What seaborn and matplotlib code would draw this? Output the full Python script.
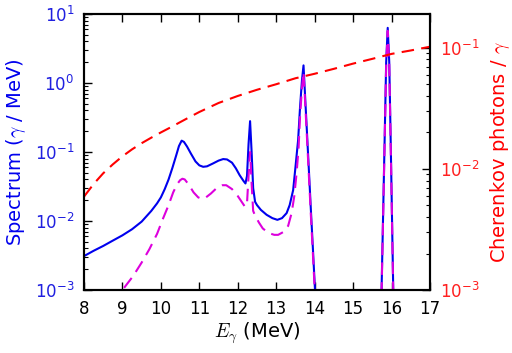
import numpy as np
import pandas as pd
import matplotlib
matplotlib.use("Agg")
import matplotlib.pyplot as plt
from matplotlib.ticker import LogLocator, NullFormatter
import seaborn as sns

# ---- data ----
E_spec = [8.0, 8.25, 8.5, 8.75, 9.0, 9.25, 9.5, 9.75, 9.9, 10.0, 10.1, 10.2, 10.3,
          10.4, 10.47, 10.54, 10.6, 10.68, 10.78, 10.9, 11.0, 11.1, 11.2, 11.35,
          11.5, 11.62, 11.72, 11.85, 11.95, 12.05, 12.15, 12.2, 12.24, 12.28, 12.32,
          12.36, 12.40, 12.45, 12.5, 12.6, 12.75, 12.9, 13.03, 13.15, 13.27, 13.35,
          13.44, 13.5, 13.57, 13.62, 13.67, 13.71, 13.75, 13.8, 13.85, 13.9, 13.95,
          14.0, 14.05, 14.1, 15.6, 15.7, 15.74, 15.78, 15.82, 15.86, 15.9, 15.94,
          15.98, 16.02, 16.06, 16.1, 16.2, 17.0]
spectrum = [3.1e-3, 3.7e-3, 4.35e-3, 5.2e-3, 6.2e-3, 7.6e-3, 9.8e-3, 1.4e-2, 1.8e-2,
            2.2e-2, 2.9e-2, 4.0e-2, 5.9e-2, 9.0e-2, 0.122, 0.146, 0.14, 0.12, 0.095,
            0.073, 0.064, 0.061, 0.062, 0.068, 0.075, 0.079, 0.078, 0.07, 0.058,
            0.046, 0.038, 0.035, 0.045, 0.13, 0.28, 0.10, 0.03, 0.019, 0.017, 0.0145,
            0.0123, 0.011, 0.0104, 0.011, 0.013, 0.017, 0.028, 0.06, 0.15, 0.45, 1.1,
            1.8, 0.66, 0.19, 0.054, 0.015, 4.4e-3, 1.25e-3, 3.5e-4, 1e-4, 1e-5, 4e-4,
            1e-3, 0.012, 0.15, 2.0, 6.3, 2.0, 0.12, 0.006, 3e-4, 1e-4, 1e-5, 1e-5]

E_weighted = [8.8, 9.0, 9.28, 9.5, 9.7, 9.9, 10.06, 10.2, 10.32, 10.42, 10.5, 10.56,
              10.62, 10.72, 10.85, 10.97, 11.06, 11.15, 11.3, 11.45, 11.6, 11.7,
              11.85, 12.0, 12.1, 12.19, 12.24, 12.28, 12.32, 12.36, 12.40, 12.45,
              12.55, 12.65, 12.8, 12.95, 13.05, 13.18, 13.31, 13.4, 13.47, 13.53,
              13.58, 13.62, 13.67, 13.71, 13.75, 13.8, 13.85, 13.9, 13.95, 14.0, 14.05,
              14.1, 15.6, 15.7, 15.74, 15.78, 15.82, 15.86, 15.9, 15.94, 15.98, 16.02,
              16.06, 16.1, 16.2, 17.0]
weighted = [6e-4, 1.0e-3, 1.6e-3, 2.5e-3, 3.9e-3, 6.5e-3, 1.1e-2, 1.7e-2, 2.6e-2,
            3.4e-2, 3.9e-2, 4.1e-2, 4.0e-2, 3.4e-2, 2.6e-2, 2.2e-2, 2.1e-2, 2.15e-2,
            2.5e-2, 3.0e-2, 3.3e-2, 3.3e-2, 2.9e-2, 2.3e-2, 1.9e-2, 1.6e-2, 1.8e-2,
            4.5e-2, 0.1, 3.5e-2, 1.4e-2, 1.2e-2, 9.5e-3, 7.8e-3, 6.7e-3, 6.3e-3,
            6.3e-3, 6.9e-3, 8.5e-3, 1.3e-2, 2.3e-2, 5e-2, 0.11, 0.33, 0.85, 1.45,
            0.55, 0.16, 0.045, 0.0125, 3.7e-3, 1.05e-3, 3e-4, 1e-4, 1e-5, 3.6e-4,
            9e-4, 0.011, 0.135, 1.8, 5.7, 1.8, 0.11, 0.0055, 2.7e-4, 1e-4, 1e-5, 1e-5]

E_cher = [8.0, 8.25, 8.5, 8.75, 9.0, 9.25, 9.5, 9.75, 10.0, 10.25, 10.5, 10.75,
          11.0, 11.5, 12.0, 12.5, 13.0, 13.5, 14.0, 14.5, 15.0, 15.5, 16.0, 16.5,
          17.0]
cherenkov = [5.9e-3, 7.5e-3, 9.2e-3, 1.09e-2, 1.27e-2, 1.45e-2, 1.63e-2, 1.81e-2,
             2.0e-2, 2.2e-2, 2.43e-2, 2.68e-2, 2.95e-2, 3.5e-2, 4.0e-2, 4.5e-2,
             5.0e-2, 5.6e-2, 6.1e-2, 6.7e-2, 7.4e-2, 8.1e-2, 8.9e-2, 9.5e-2, 0.102]

x_ticks = [8, 9, 10, 11, 12, 13, 14, 15, 16, 17]

df_spec = pd.DataFrame({"E": E_spec, "v": spectrum})
df_w = pd.DataFrame({"E": E_weighted, "v": weighted})
df_c = pd.DataFrame({"E": E_cher, "v": cherenkov})

# ---- style ----
sns.set_style("ticks")
plt.rcParams.update({
    "font.family": ["DejaVu Sans"],
    "mathtext.fontset": "cm",
    "axes.edgecolor": "black",
    "axes.linewidth": 1.5,
    "xtick.direction": "in",
    "ytick.direction": "in",
    "xtick.major.size": 6,
    "ytick.major.size": 6,
    "xtick.minor.size": 3,
    "ytick.minor.size": 3,
    "xtick.major.width": 1.0,
    "ytick.major.width": 1.0,
    "xtick.minor.width": 0.8,
    "ytick.minor.width": 0.8,
    "xtick.color": "black",
    "ytick.color": "black",
    "xtick.top": True,
    "xtick.major.pad": 7,
    "ytick.major.pad": 7,
    "xtick.labelsize": 12,
    "ytick.labelsize": 12,
})

fig = plt.figure(figsize=(5.12, 3.53), dpi=100)
ax = fig.add_axes([84 / 512, 63 / 353, 346 / 512, 276 / 353])
ax2 = ax.twinx()

dash = (0, (6, 3.5))
sns.lineplot(data=df_spec, x="E", y="v", ax=ax, color="#0000ee", lw=1.5,
             estimator=None, sort=False)
sns.lineplot(data=df_w, x="E", y="v", ax=ax, color="#dd00dd", lw=1.5,
             linestyle=dash, estimator=None, sort=False)
sns.lineplot(data=df_c, x="E", y="v", ax=ax2, color="#ff0000", lw=1.5,
             linestyle=dash, estimator=None, sort=False)

ax.set_xlim(8, 17)
for a, lo, hi in ((ax, 1e-3, 10), (ax2, 1e-3, 0.19)):
    a.set_yscale("log")
    a.set_ylim(lo, hi)
    a.yaxis.set_major_locator(LogLocator(base=10, numticks=20))
    a.yaxis.set_minor_locator(LogLocator(base=10, subs=np.arange(2, 10), numticks=100))
    a.yaxis.set_minor_formatter(NullFormatter())
ax.set_xticks(x_ticks)
ax.set_xticklabels([str(t) for t in x_ticks])

ax.tick_params(axis="x", which="both", top=True, bottom=True)
ax.tick_params(axis="y", which="both", left=True, right=False)
ax.tick_params(axis="y", labelcolor="#2020e0")
ax2.tick_params(axis="y", which="both", right=True, left=False)
ax2.tick_params(axis="y", labelcolor="#ff2020")

ax.set_xlabel(r"$E_\gamma$ (MeV)", fontsize=14, color="black", labelpad=2)
ax.set_ylabel(r"Spectrum ($\gamma$ / MeV)", fontsize=14, color="#0000ee", labelpad=5)
ax2.set_ylabel(r"Cherenkov photons / $\gamma$", fontsize=14, color="#ff0000",
               labelpad=6)

for a in (ax, ax2):
    for s in a.spines.values():
        s.set_color("black")
        s.set_linewidth(1.5)
        s.set_visible(True)

fig.savefig("out.png", dpi=100)
